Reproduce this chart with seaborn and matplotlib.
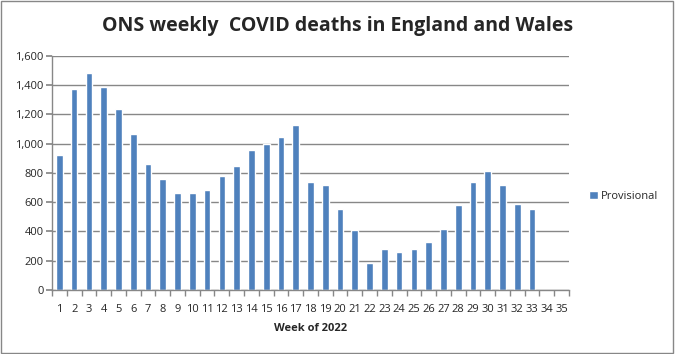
import numpy as np
import pandas as pd
import seaborn as sns
import matplotlib.pyplot as plt
from matplotlib.ticker import FuncFormatter, FixedLocator

# data
weeks = [str(w) for w in range(1, 36)]
deaths = [920, 1375, 1480, 1385, 1235, 1065, 860, 760, 665, 665,
          680, 780, 850, 960, 1000, 1045, 1125, 735, 720, 550,
          410, 185, 280, 260, 280, 330, 420, 580, 740, 810,
          720, 590, 550, np.nan, np.nan]
series_name = "Provisional"

df = pd.DataFrame({"week": weeks, "deaths": deaths, "series": series_name})

sns.set_theme(style="white")
plt.rcParams["font.family"] = ["Open Sans", "DejaVu Sans"]

fig = plt.figure(figsize=(6.75, 3.54), dpi=100)
ax = fig.add_axes([0.077, 0.181, 0.766, 0.661])

sns.barplot(data=df, x="week", y="deaths", hue="series", order=weeks,
            palette=["#4F81BD"], width=0.45, saturation=1, ax=ax)

ax.set_ylim(0, 1600)
ax.set_xlim(-0.5, len(weeks) - 0.5)
ax.set_yticks(range(0, 1601, 200))
ax.yaxis.set_major_formatter(FuncFormatter(lambda v, p: f"{int(v):,}"))
ax.yaxis.grid(True, color="#878787", linewidth=1)
ax.set_axisbelow(True)

# ticks between categories, labels centred
ax.tick_params(axis="x", which="major", length=0, labelsize=8, pad=10)
ax.xaxis.set_minor_locator(FixedLocator(np.arange(-0.5, len(weeks), 1)))
ax.tick_params(axis="x", which="minor", length=4, color="#878787", direction="out", bottom=True)
ax.tick_params(axis="y", length=4, color="#878787", direction="out", left=True, labelsize=8, pad=2)

for s in ["top", "right"]:
    ax.spines[s].set_visible(False)
for s in ["left", "bottom"]:
    ax.spines[s].set_color("#878787")
    ax.spines[s].set_linewidth(1)

ax.set_xlabel("Week of 2022", fontsize=8, fontweight="bold", labelpad=6)
ax.set_ylabel("")

leg = ax.legend(loc="center left", bbox_to_anchor=(1.02, 0.4), frameon=False,
                fontsize=8, handlelength=0.8, handleheight=0.8, handletextpad=0.2)

fig.suptitle("ONS weekly  COVID deaths in England and Wales", fontsize=14,
             fontweight="bold", x=0.5, y=0.955)

# grey border around the figure
fig.patches.append(plt.Rectangle((0.002, 0.003), 0.995, 0.994, transform=fig.transFigure,
                                 fill=False, edgecolor="#878787", linewidth=1))

fig.savefig("out.png", dpi=100)
